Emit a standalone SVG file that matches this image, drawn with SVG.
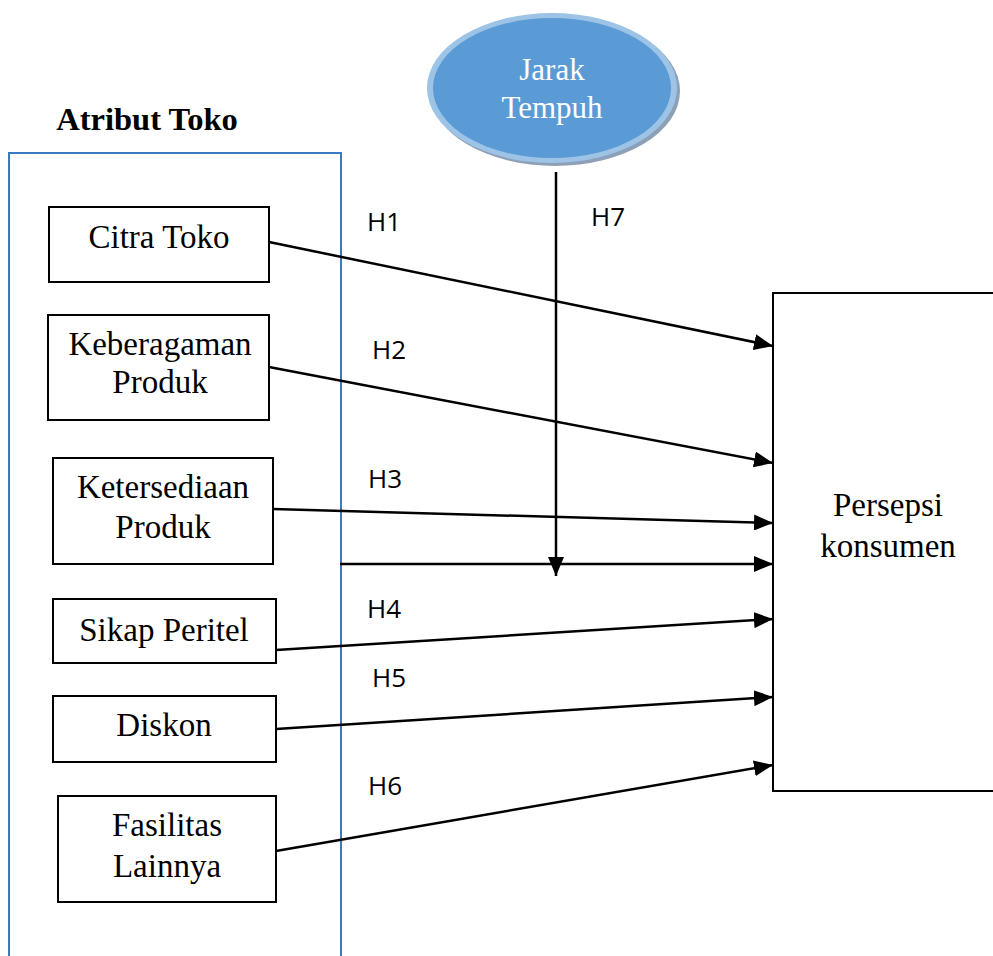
<svg xmlns="http://www.w3.org/2000/svg" width="993" height="956" viewBox="0 0 993 956">
<style>
.box{fill:#fff;stroke:#000;stroke-width:2}
.t{font-family:"Liberation Serif","Times New Roman",serif;font-size:33px;fill:#000;text-anchor:middle}
.h{font-family:"Open Sans","Liberation Sans",sans-serif;font-size:26px;fill:#000}
.c{stroke:#000;stroke-width:2.5;fill:none;marker-end:url(#ah)}
.w{font-family:"Liberation Serif","Times New Roman",serif;font-size:31px;fill:#fff;text-anchor:middle}
</style>
<defs>
<marker id="ah" markerUnits="userSpaceOnUse" markerWidth="20" markerHeight="16" viewBox="0 0 20 16" refX="19" refY="8" orient="auto">
<path d="M0,0 L19,8 L0,16 Z" fill="#000"/>
</marker>
</defs>
<rect width="993" height="956" fill="#fff"/>
<g id="atribut-toko">
<text x="147" y="130" style="font-family:'Liberation Serif','Times New Roman',serif;font-size:32.5px;font-weight:bold;text-anchor:middle">Atribut Toko</text>
<path d="M9,956 V153 H341 V956" fill="none" stroke="#3A78BF" stroke-width="2"/>
</g>
<g id="citra-toko">
<rect class="box" x="49" y="207" width="220" height="75"/>
<text class="t" x="159" y="248">Citra Toko</text>
</g>
<g id="keberagaman-produk">
<rect class="box" x="48" y="315" width="221" height="105"/>
<text class="t" x="160" y="355">Keberagaman</text>
<text class="t" x="160" y="393">Produk</text>
</g>
<g id="ketersediaan-produk">
<rect class="box" x="53" y="458" width="220" height="106"/>
<text class="t" x="163" y="498">Ketersediaan</text>
<text class="t" x="163" y="538">Produk</text>
</g>
<g id="sikap-peritel">
<rect class="box" x="53" y="599" width="223" height="64"/>
<text class="t" x="164" y="641">Sikap Peritel</text>
</g>
<g id="diskon">
<rect class="box" x="53" y="696" width="223" height="66"/>
<text class="t" x="164" y="736">Diskon</text>
</g>
<g id="fasilitas-lainnya">
<rect class="box" x="58" y="796" width="218" height="106"/>
<text class="t" x="167" y="836">Fasilitas</text>
<text class="t" x="167" y="877">Lainnya</text>
</g>
<g id="persepsi-konsumen">
<rect class="box" x="773" y="293" width="224" height="498"/>
<text class="t" x="888" y="516">Persepsi</text>
<text class="t" x="888" y="557">konsumen</text>
</g>
<g id="jarak-tempuh">
<ellipse cx="555" cy="91" rx="125" ry="75" fill="#8EA0B8"/>
<ellipse cx="552" cy="88" rx="125" ry="75" fill="#9DC3E6"/>
<ellipse cx="552" cy="88" rx="119" ry="70" fill="#5B9BD5"/>
<text class="w" x="552" y="80">Jarak</text>
<text class="w" x="552" y="118">Tempuh</text>
</g>
<g id="connectors">
<line class="c" x1="269" y1="242" x2="773" y2="346"/>
<line class="c" x1="269" y1="367" x2="773" y2="463"/>
<line class="c" x1="273" y1="509" x2="773" y2="523"/>
<line class="c" x1="340" y1="564" x2="773" y2="564"/>
<line class="c" x1="276" y1="650" x2="773" y2="619"/>
<line class="c" x1="276" y1="729" x2="773" y2="697"/>
<line class="c" x1="276" y1="851" x2="773" y2="765"/>
<line class="c" x1="556" y1="172" x2="556" y2="576"/>
</g>
<g id="labels">
<text class="h" x="367" y="231">H1</text>
<text class="h" x="372" y="359">H2</text>
<text class="h" x="368" y="488">H3</text>
<text class="h" x="367" y="618">H4</text>
<text class="h" x="372" y="687">H5</text>
<text class="h" x="368" y="795">H6</text>
<text class="h" x="591" y="226">H7</text>
</g>
</svg>
